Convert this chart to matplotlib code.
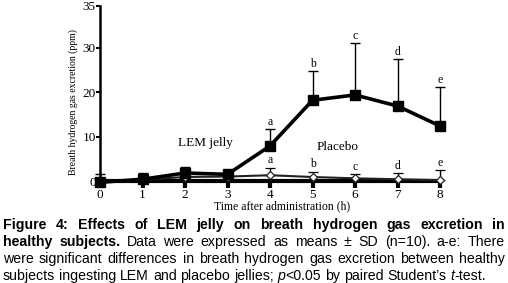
import numpy as np
import matplotlib
matplotlib.use("Agg")
import matplotlib.pyplot as plt

# data
hours = [0, 1, 2, 3, 4, 5, 6, 7, 8]
lem_mean = [-0.3, 0.4, 1.8, 1.5, 7.9, 18.2, 19.4, 16.9, 12.4]
lem_sd = [1.9, 1.4, 1.4, 0.8, 3.8, 6.5, 11.2, 10.5, 8.7]
placebo_mean = [0.0, 0.3, 0.9, 1.0, 1.3, 0.9, 0.6, 0.4, 0.2]
placebo_sd = [0.5, 0.8, 1.0, 0.8, 1.7, 1.2, 1.0, 1.4, 2.3]
sig_hours = [4, 5, 6, 7, 8]
sig_letters = ['a', 'b', 'c', 'd', 'e']
yticks = [0, 10, 20, 30, 35]

W, H = 508, 283
fig = plt.figure(figsize=(W / 100, H / 100), dpi=100)
ax = fig.add_axes([100 / W, (H - 181) / H, 340 / W, 175 / H])

# y axis is stretched above 30 in the original
k = 1.89
def fwd(y):
    y = np.asarray(y, dtype=float)
    return np.where(y <= 30, y, 30 + (y - 30) * k)
def inv(v):
    v = np.asarray(v, dtype=float)
    return np.where(v <= 30, v, 30 + (v - 30) / k)
ax.set_yscale('function', functions=(fwd, inv))

serif = 'Liberation Serif'

# placebo
ax.errorbar(hours, placebo_mean, yerr=[np.zeros(9), placebo_sd], color='#222222',
            lw=1.5, marker='D', ms=4.5, mfc='white', mec='#222222', mew=0.9,
            ecolor='black', elinewidth=1, capsize=3.5, capthick=1, clip_on=False, zorder=3)
# LEM jelly
ax.errorbar(hours, lem_mean, yerr=[np.zeros(9), lem_sd], color='black',
            lw=2.6, marker='s', ms=6.5, mfc='black', mec='black',
            ecolor='black', elinewidth=1, capsize=3.5, capthick=1, clip_on=False, zorder=4)

for h, l in zip(sig_hours, sig_letters):
    i = hours.index(h)
    ax.annotate(l, (h, lem_mean[i] + lem_sd[i]), xytext=(0, 1), textcoords='offset points',
                ha='center', va='bottom', fontsize=8.5, family=serif)
    ax.annotate(l, (h, placebo_mean[i] + placebo_sd[i]), xytext=(0, 1), textcoords='offset points',
                ha='center', va='bottom', fontsize=8.5, family=serif)

ax.text(2.47, 8.5, 'LEM jelly', ha='center', va='center', fontsize=9.5, family=serif)
ax.text(5.6, 7.6, 'Placebo', ha='center', va='center', fontsize=9.5, family=serif)

ax.set_xlim(0, 8)
ax.set_ylim(0, 35)
ax.set_xticks(hours)
ax.set_yticks(yticks)
for s in ['top', 'right']:
    ax.spines[s].set_visible(False)
ax.spines['left'].set_linewidth(1.8)
ax.spines['bottom'].set_linewidth(3)
ax.tick_params(axis='x', length=5, width=3, pad=1, labelsize=9.5)
ax.tick_params(axis='y', length=3, width=1.5, pad=0, labelsize=9.5)
for t in ax.get_xticklabels() + ax.get_yticklabels():
    t.set_family(serif)

fig.text(73 / W, 1 - 102 / H, 'Breath hydrogen gas excretion (ppm)', rotation=90,
         ha='center', va='center', fontsize=7, family=serif)
fig.text(282 / W, 1 - 206 / H, 'Time after administration (h)', ha='center', va='center',
         fontsize=8.5, family=serif)

# caption, justified like the journal layout
sans = 'Liberation Sans'
lines = [
    [[('Figure', 'b')], [('4:', 'b')], [('Effects', 'b')], [('of', 'b')], [('LEM', 'b')], [('jelly', 'b')],
     [('on', 'b')], [('breath', 'b')], [('hydrogen', 'b')], [('gas', 'b')], [('excretion', 'b')], [('in', 'b')]],
    [[('healthy', 'b')], [('subjects.', 'b')]] + [[(w, 'n')] for w in 'Data were expressed as means ± SD (n=10). a-e: There'.split()],
    [[(w, 'n')] for w in 'were significant differences in breath hydrogen gas excretion between healthy'.split()],
    [[(w, 'n')] for w in 'subjects ingesting LEM and placebo jellies;'.split()]
    + [[('p', 'i'), ('<0.05', 'n')]] + [[(w, 'n')] for w in 'by paired Student’s'.split()]
    + [[('t', 'i'), ('-test.', 'n')]],
]
baselines = [229, 246, 263, 280]
cap_fs = 10.2
fig.canvas.draw()
r = fig.canvas.get_renderer()

def mk(x, y, s, st):
    kw = dict(fontsize=cap_fs, family=sans, va='baseline', ha='left')
    if st == 'b':
        kw['weight'] = 'bold'
    if st == 'i':
        kw['style'] = 'italic'
    return fig.text(x / W, 1 - y / H, s, **kw)

def width(s, st):
    t = mk(0, 0, s, st)
    w = t.get_window_extent(r).width
    t.remove()
    return w

space = width('x x', 'n') - width('xx', 'n')
x0, x1 = 3, 505
for li, (words, yb) in enumerate(zip(lines, baselines)):
    ws = [sum(width(s, st) for s, st in wd) for wd in words]
    if li < len(lines) - 1:
        gap = (x1 - x0 - sum(ws)) / (len(words) - 1)
    else:
        gap = space
    x = x0
    for wd, wdw in zip(words, ws):
        xx = x
        for s, st in wd:
            mk(xx, yb, s, st)
            xx += width(s, st)
        x += wdw + gap

fig.savefig('out.png', dpi=100)
